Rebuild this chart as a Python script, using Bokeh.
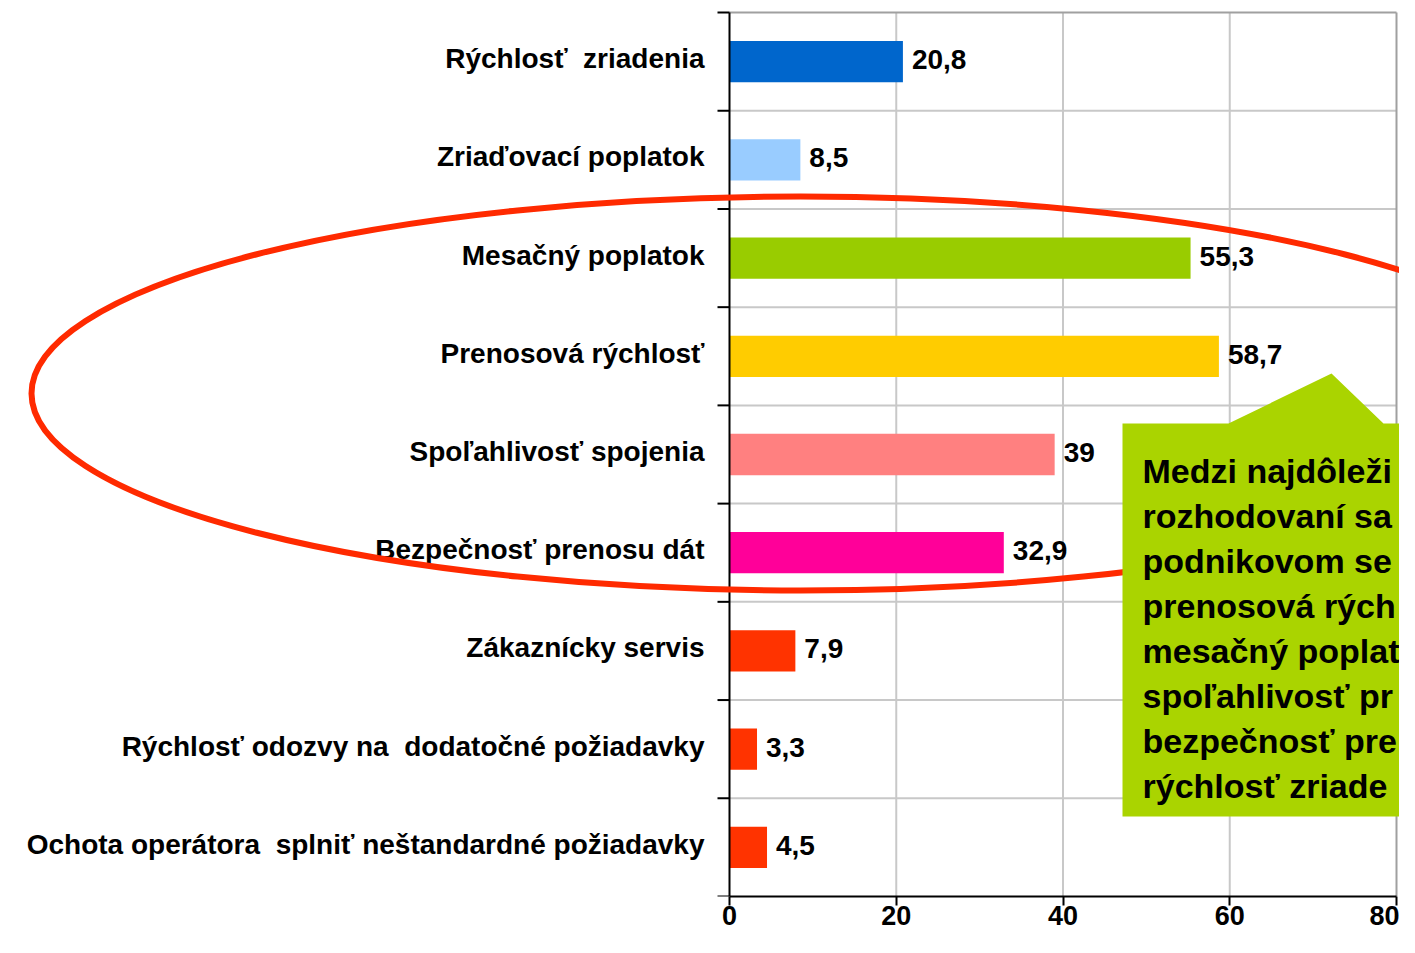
from bokeh.plotting import figure
from bokeh.models import Range1d, FixedTicker
from bokeh.core.properties import value
from bokeh.embed import file_html
from bokeh.resources import INLINE

# ---------------- data ----------------
categories = [
    "Rýchlosť\u00a0 zriadenia",
    "Zriaďovací poplatok",
    "Mesačný poplatok",
    "Prenosová rýchlosť",
    "Spoľahlivosť spojenia",
    "Bezpečnosť prenosu dát",
    "Zákaznícky servis",
    "Rýchlosť odozvy na\u00a0 dodatočné požiadavky",
    "Ochota operátora\u00a0 splniť neštandardné požiadavky",
]
values = [20.8, 8.5, 55.3, 58.7, 39, 32.9, 7.9, 3.3, 4.5]
value_labels = ["20,8", "8,5", "55,3", "58,7", "39", "32,9", "7,9", "3,3", "4,5"]
bar_colors = ["#0066CC", "#99CCFF", "#99CC00", "#FFCC00", "#FF8080",
              "#FF0099", "#FF3300", "#FF3300", "#FF3300"]
x_ticks = [0, 20, 40, 60, 80]
callout_lines = [
    "Medzi najdôleži",
    "rozhodovaní sa",
    "podnikovom se",
    "prenosová rých",
    "mesačný poplat",
    "spoľahlivosť pr",
    "bezpečnosť pre",
    "rýchlosť zriade",
]

# ---------------- layout ----------------
W, H = 1399, 937
FRAME_H = 896
AXIS_X_PX = 729          # pixel position of value 0 inside the frame
PX_PER_X = 667 / 80.0
PX_PER_Y = 884 / 9.0
n = len(categories)
ys = [n - i - 0.5 for i in range(n)]

x_start = -AXIS_X_PX / PX_PER_X
x_end = (W - AXIS_X_PX) / PX_PER_X
y_end = FRAME_H / PX_PER_Y

FONT = value("Liberation Sans")

p = figure(width=W, height=H, x_range=Range1d(x_start, x_end), y_range=Range1d(0, y_end),
           output_backend="svg", toolbar_location=None, y_axis_location=None,
           min_border_left=0, min_border_right=0, min_border_top=0, min_border_bottom=H - FRAME_H)
p.outline_line_color = None
p.xgrid.visible = False
p.ygrid.visible = False
p.background_fill_color = "white"

xa = p.xaxis[0]
xa.bounds = (0, 80)
xa.ticker = FixedTicker(ticks=x_ticks)
xa.minor_tick_line_color = None
xa.axis_line_width = 2
xa.axis_line_color = "black"
xa.major_tick_line_width = 2
xa.major_tick_out = 9
xa.major_tick_in = 0
xa.major_label_text_font = "Liberation Sans"
xa.major_label_text_font_style = "bold"
xa.major_label_text_font_size = "27px"
xa.major_label_text_color = "black"
xa.major_label_standoff = 0

# grid lines
inner_x = [t for t in x_ticks if 0 < t < 80]
p.segment(x0=inner_x, y0=[0] * len(inner_x), x1=inner_x, y1=[n] * len(inner_x),
          line_color="#C8C8C8", line_width=2)
hy = list(range(1, n))
p.segment(x0=[0] * len(hy), y0=hy, x1=[80] * len(hy), y1=hy, line_color="#C8C8C8", line_width=2)
p.segment(x0=[80, 0], y0=[0, n], x1=[80, 80], y1=[n, n], line_color="#A0A0A0", line_width=2)

# bars
p.hbar(y=ys, left=0, right=values, height=0.42, fill_color=bar_colors, line_color=None)

# y axis line and ticks
tick_len = 12 / PX_PER_X
ty = list(range(0, n + 1))
p.segment(x0=[-tick_len] * len(ty), y0=ty, x1=[0] * len(ty), y1=ty, line_color="black", line_width=2)
p.segment(x0=[0], y0=[0], x1=[0], y1=[n], line_color="black", line_width=2)

# value labels
p.text(x=values, y=ys, text=value_labels, x_offset=9, y_offset=-2,
       text_align="left", text_baseline="middle", text_font=FONT,
       text_font_style="bold", text_font_size="28px", text_color="black")

# category labels
p.text(x=[0] * n, y=ys, text=categories, x_offset=-25, y_offset=-3,
       text_align="right", text_baseline="middle", text_font=FONT,
       text_font_style="bold", text_font_size="28px", text_color="black")

# helpers for annotation placement in picture pixels
def px_x(px):
    return (px - AXIS_X_PX) / PX_PER_X

def px_y(py):
    return (FRAME_H - py) / PX_PER_Y

# red ellipse (annotation)
p.ellipse(x=[px_x(800)], y=[px_y(393)], width=[1538], height=[394],
          width_units="screen", height_units="screen",
          fill_color=None, line_color="#FF2A00", line_width=6)

# green callout (annotation)
box_l, box_r = px_x(1122), px_x(1600)
box_t, box_b = px_y(423), px_y(816)
cx = [box_l, box_l, px_x(1228), px_x(1331), px_x(1383), box_r, box_r]
cy = [box_b, box_t, box_t, px_y(373), box_t, box_t, box_b]
p.patch(x=cx, y=cy, fill_color="#AAD400", line_color=None)

line_step = 45 / PX_PER_Y
p.text(x=[px_x(1142)] * len(callout_lines),
       y=[px_y(470) - i * line_step for i in range(len(callout_lines))],
       text=callout_lines, text_align="left", text_baseline="alphabetic",
       text_font=FONT, text_font_style="bold", text_font_size="34px", text_color="black")

open("out.html", "w").write(file_html(p, INLINE))
